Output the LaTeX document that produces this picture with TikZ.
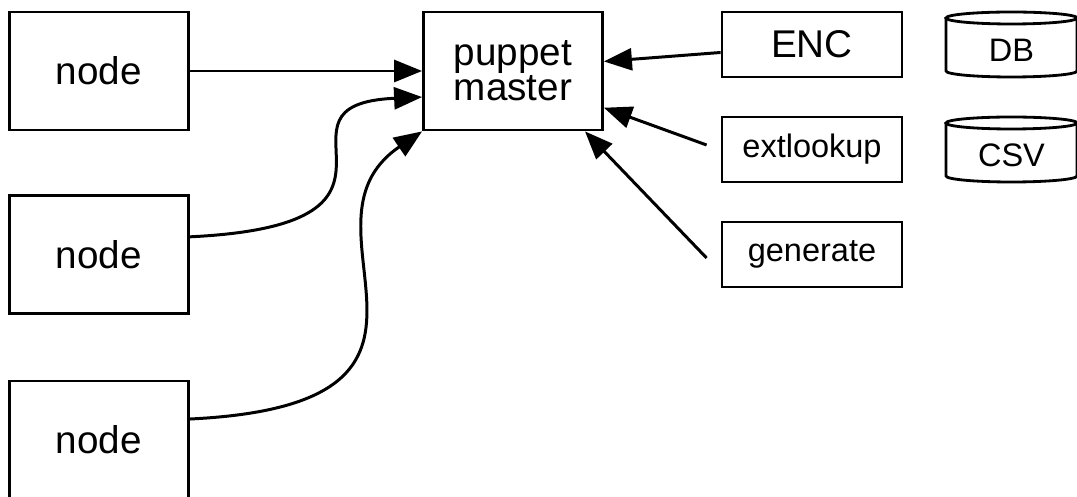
\documentclass[tikz,border=0pt]{standalone}
\usepackage{fontspec}
\setmainfont{Liberation Sans}
\usetikzlibrary{arrows.meta}

\begin{document}
\begin{tikzpicture}
[box/.style={draw,line width=1.6pt,align=center,inner sep=0pt}
,big/.style={font=\fontsize{22}{20}\selectfont}
,small/.style={font=\fontsize{18.5}{20}\selectfont}
,host/.style={box,big,minimum width=3.58cm,minimum height=2.36cm}
,source/.style={box,small,minimum width=3.6cm,minimum height=1.3cm}
,tub/.style={line width=1.6pt}
,feed/.style={-{Triangle[length=0.56cm,width=0.44cm]},line width=1.7pt}
]
\useasboundingbox (0,0) rectangle (21.54,-9.94);

\node[host](n1) at (1.98,-1.42) {node};
\node[host](n2) at (1.98,-5.09) {node};
\node[host](n3) at (1.98,-8.8)  {node};
\node[host](pm) at (10.26,-1.42) {puppet\\master};

\node[source,big](enc) at (16.24,-0.89) {ENC};
\node[source](ext) at (16.24,-2.99) {extlookup};
\node[source](gen) at (16.24,-5.09) {generate};

\node[small](db)  at (20.23,-1.0) {DB};
\node[small](csv) at (20.23,-3.1) {CSV};

% storage drums
\draw[tub] (db.center) ++(-1.31,0.64) -- ++(0,-1.06) arc[start angle=180,end angle=360,x radius=1.31,y radius=0.12] -- ++(0,1.06);
\draw[tub] (db.center) ++(0,0.64) ellipse[x radius=1.31,y radius=0.12];
\draw[tub] (csv.center) ++(-1.31,0.64) -- ++(0,-1.06) arc[start angle=180,end angle=360,x radius=1.31,y radius=0.12] -- ++(0,1.06);
\draw[tub] (csv.center) ++(0,0.64) ellipse[x radius=1.31,y radius=0.12];

\draw[feed] (n1) -- (pm);
\draw[feed] (n2.11) .. controls +(5.2,0.25) and +(-3.4,-0.15) .. (pm.196);
\draw[feed] (n3.13) .. controls +(6.2,0.3) and +(-2.8,-1.9) .. (pm.south west);

\draw[feed] (enc.185) -- (pm.6);
\draw[feed] ([xshift=-0.28cm,yshift=0.09cm]ext.west) -- (pm.-22);
\draw[feed] ([xshift=-0.28cm,yshift=-0.07cm]gen.west) -- (pm.-40);

\end{tikzpicture}
\end{document}
